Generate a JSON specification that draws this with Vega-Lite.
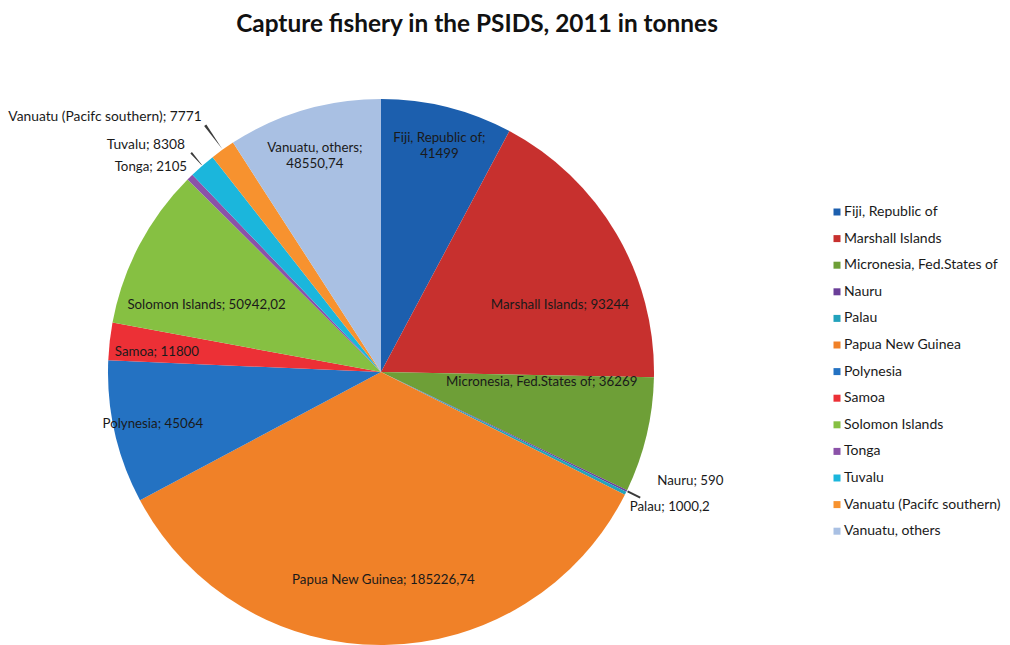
{
 "$schema": "https://vega.github.io/schema/vega-lite/v6.json",
 "autosize": {"type": "none"},
 "width": 762,
 "height": 544,
 "padding": {"left": 0, "top": 100, "right": 248, "bottom": 1},
 "background": "white",
 "config": {"view": {"stroke": null}},
 "title": {"text": "Capture fishery in the PSIDS, 2011 in tonnes", "font": "Lato", "fontSize": 24.4, "fontWeight": "bold", "color": "#111111", "anchor": "middle", "dx": 96, "offset": 25},
 "data": {"values": [
  {"i": 1, "country": "Fiji, Republic of", "tonnes": 41499, "label": "Fiji, Republic of;\n41499"},
  {"i": 2, "country": "Marshall Islands", "tonnes": 93244, "label": "Marshall Islands; 93244"},
  {"i": 3, "country": "Micronesia, Fed.States of", "tonnes": 36269, "label": "Micronesia, Fed.States of; 36269"},
  {"i": 4, "country": "Nauru", "tonnes": 590, "label": "Nauru; 590"},
  {"i": 5, "country": "Palau", "tonnes": 1000.2, "label": "Palau; 1000,2"},
  {"i": 6, "country": "Papua New Guinea", "tonnes": 185226.74, "label": "Papua New Guinea; 185226,74"},
  {"i": 7, "country": "Polynesia", "tonnes": 45064, "label": "Polynesia; 45064"},
  {"i": 8, "country": "Samoa", "tonnes": 11800, "label": "Samoa; 11800"},
  {"i": 9, "country": "Solomon Islands", "tonnes": 50942.02, "label": "Solomon Islands; 50942,02"},
  {"i": 10, "country": "Tonga", "tonnes": 2105, "label": "Tonga; 2105"},
  {"i": 11, "country": "Tuvalu", "tonnes": 8308, "label": "Tuvalu; 8308"},
  {"i": 12, "country": "Vanuatu (Pacifc southern)", "tonnes": 7771, "label": "Vanuatu (Pacifc southern); 7771"},
  {"i": 13, "country": "Vanuatu, others", "tonnes": 48550.74, "label": "Vanuatu, others;\n48550,74"}
 ]},
 "encoding": {
  "theta": {"field": "tonnes", "type": "quantitative", "stack": true},
  "order": {"field": "i", "type": "quantitative"}
 },
 "layer": [
  {
   "mark": {"type": "arc", "outerRadius": 273},
   "encoding": {
    "color": {"field": "country", "type": "nominal",
     "scale": {
      "domain": ["Fiji, Republic of", "Marshall Islands", "Micronesia, Fed.States of", "Nauru", "Palau", "Papua New Guinea", "Polynesia", "Samoa", "Solomon Islands", "Tonga", "Tuvalu", "Vanuatu (Pacifc southern)", "Vanuatu, others"],
      "range": ["#1C5FAE", "#C7302E", "#6E9F37", "#6A3E98", "#22A2BC", "#F08128", "#2472C2", "#EC3036", "#86C042", "#8B52A8", "#1BB6DC", "#F7922F", "#A9C0E3"]
     },
     "legend": {"orient": "none", "legendX": 830, "legendY": 105, "title": null, "symbolType": "square", "symbolSize": 49, "symbolStrokeWidth": 0, "labelFont": "Lato", "labelFontSize": 14, "labelColor": "#1a1a1a", "rowPadding": 12.6, "labelOffset": 0}
    }
   }
  },
  {
   "mark": {"type": "arc", "innerRadius": 274, "outerRadius": 288, "color": "#3a3a3a"},
   "encoding": {"opacity": {"condition": {"test": "datum.country == 'Nauru'", "value": 1}, "value": 0}}
  },
  {
   "mark": {"type": "arc", "innerRadius": 274, "outerRadius": 290, "padAngle": 0.0661, "color": "#3a3a3a"},
   "encoding": {"opacity": {"condition": {"test": "datum.country == 'Tuvalu'", "value": 1}, "value": 0}}
  },
  {
   "mark": {"type": "arc", "innerRadius": 274, "outerRadius": 303, "padAngle": 0.0615, "color": "#3a3a3a"},
   "encoding": {"opacity": {"condition": {"test": "datum.country == 'Vanuatu (Pacifc southern)'", "value": 1}, "value": 0}}
  },
  {
   "mark": {"type": "text", "radius": 241, "font": "Lato", "fontSize": 13.3, "color": "#1a1a1a", "lineBreak": "\n", "lineHeight": 16},
   "encoding": {"text": {"condition": {"test": "datum.country == 'Fiji, Republic of'", "field": "label"}, "value": ""}}
  },
  {
   "mark": {"type": "text", "radius": 234, "font": "Lato", "fontSize": 13.3, "color": "#1a1a1a", "lineBreak": "\n", "lineHeight": 16},
   "encoding": {"text": {"condition": {"test": "indexof(['Vanuatu, others','Polynesia'], datum.country) >= 0", "field": "label"}, "value": ""}}
  },
  {
   "mark": {"type": "text", "radius": 225, "thetaOffset": -0.023, "font": "Lato", "fontSize": 13.3, "color": "#1a1a1a"},
   "encoding": {"text": {"condition": {"test": "datum.country == 'Samoa'", "field": "label"}, "value": ""}}
  },
  {
   "mark": {"type": "text", "radius": 191, "thetaOffset": 0.173, "font": "Lato", "fontSize": 13.3, "color": "#1a1a1a"},
   "encoding": {"text": {"condition": {"test": "datum.country == 'Marshall Islands'", "field": "label"}, "value": ""}}
  },
  {
   "mark": {"type": "text", "radius": 161, "thetaOffset": -0.17, "font": "Lato", "fontSize": 13.3, "color": "#1a1a1a"},
   "encoding": {"text": {"condition": {"test": "datum.country == 'Micronesia, Fed.States of'", "field": "label"}, "value": ""}}
  },
  {
   "mark": {"type": "text", "radius": 208, "font": "Lato", "fontSize": 13.3, "color": "#1a1a1a"},
   "encoding": {"text": {"condition": {"test": "datum.country == 'Papua New Guinea'", "field": "label"}, "value": ""}}
  },
  {
   "mark": {"type": "text", "radius": 187, "thetaOffset": -0.115, "font": "Lato", "fontSize": 13.3, "color": "#1a1a1a"},
   "encoding": {"text": {"condition": {"test": "datum.country == 'Solomon Islands'", "field": "label"}, "value": ""}}
  },
  {
   "mark": {"type": "text", "radius": 297, "thetaOffset": -0.075, "align": "left", "font": "Lato", "fontSize": 13.3, "color": "#1a1a1a"},
   "encoding": {"text": {"condition": {"test": "datum.country == 'Nauru'", "field": "label"}, "value": ""}}
  },
  {
   "mark": {"type": "text", "radius": 283, "thetaOffset": 0.037, "align": "left", "font": "Lato", "fontSize": 13.3, "color": "#1a1a1a"},
   "encoding": {"text": {"condition": {"test": "datum.country == 'Palau'", "field": "label"}, "value": ""}}
  },
  {
   "mark": {"type": "text", "radius": 282, "thetaOffset": 0.017, "align": "right", "font": "Lato", "fontSize": 13.3, "color": "#1a1a1a"},
   "encoding": {"text": {"condition": {"test": "datum.country == 'Tonga'", "field": "label"}, "value": ""}}
  },
  {
   "mark": {"type": "text", "radius": 300, "thetaOffset": 0.002, "align": "right", "font": "Lato", "fontSize": 13.8, "color": "#1a1a1a"},
   "encoding": {"text": {"condition": {"test": "datum.country == 'Tuvalu'", "field": "label"}, "value": ""}}
  },
  {
   "mark": {"type": "text", "radius": 312, "thetaOffset": 0.007, "align": "right", "font": "Lato", "fontSize": 13.8, "color": "#1a1a1a"},
   "encoding": {"text": {"condition": {"test": "datum.country == 'Vanuatu (Pacifc southern)'", "field": "label"}, "value": ""}}
  }
 ]
}
